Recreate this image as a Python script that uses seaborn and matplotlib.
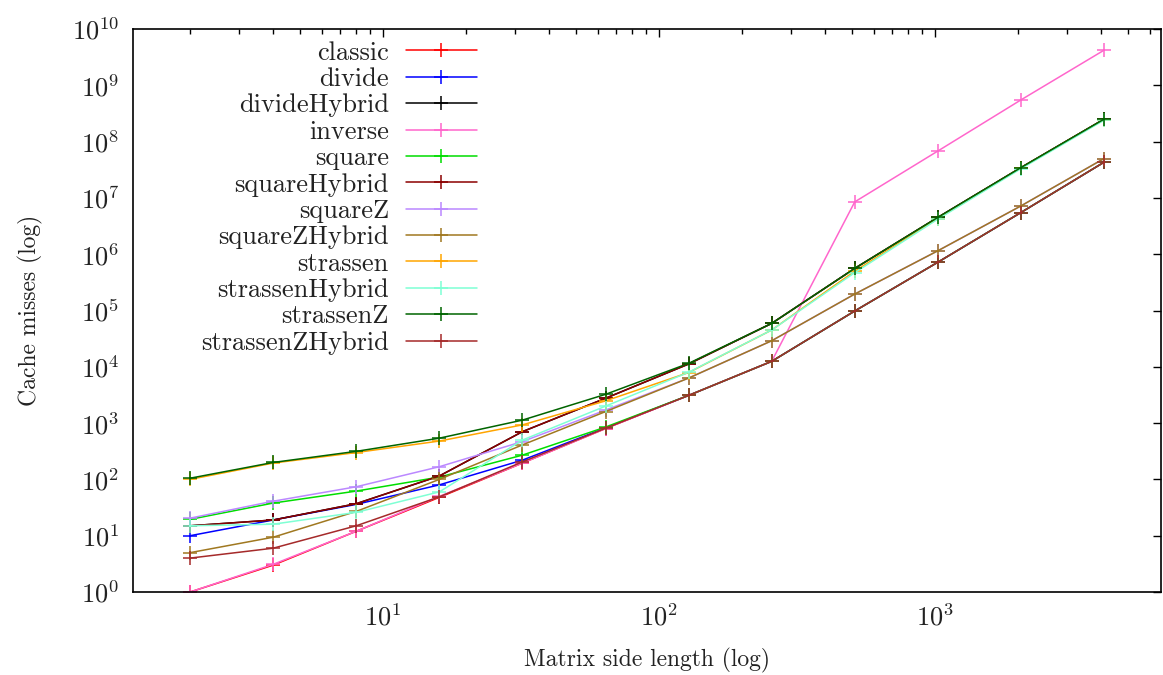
import numpy as np
import pandas as pd
import matplotlib
matplotlib.use("Agg")
import matplotlib.pyplot as plt
import seaborn as sns
from matplotlib.ticker import LogLocator, NullLocator, LogFormatterMathtext, NullFormatter

sizes = [2, 4, 8, 16, 32, 64, 128, 256, 512, 1024, 2048, 4096]

series_names = ["classic", "divide", "divideHybrid", "inverse", "square", "squareHybrid",
                "squareZ", "squareZHybrid", "strassen", "strassenHybrid", "strassenZ",
                "strassenZHybrid"]

classic = [1, 3, 12, 48, 195, 800, 3100, 12500, 9.8e4, 7.2e5, 5.5e6, 4.3e7]
divide = [10, 19, 36, 80, 220, 820, 3100, 12500, 9.8e4, 7.2e5, 5.5e6, 4.3e7]
divideHybrid = [15, 19, 37, 115, 705, 2760, 1.12e4, 5.9e4, 5.6e5, 4.5e6, 3.45e7, 2.5e8]
inverse = [1, 3.1, 12, 50, 195, 800, 3100, 12500, 8.5e6, 6.8e7, 5.5e8, 4.2e9]
square = [19.5, 38, 62, 110, 270, 850, 3100, 12500, 9.8e4, 7.2e5, 5.5e6, 4.3e7]
squareHybrid = [15, 19, 37, 115, 705, 2760, 1.12e4, 5.9e4, 5.6e5, 4.5e6, 3.45e7, 2.5e8]
squareZ = [20.5, 41, 74, 168, 470, 1700, 6300, 2.9e4, 1.96e5, 1.15e6, 7.2e6, 5.0e7]
squareZHybrid = [5, 9.4, 27, 100, 410, 1600, 6300, 2.9e4, 1.96e5, 1.15e6, 7.2e6, 5.0e7]
strassen = [100, 195, 300, 480, 930, 2480, 7900, 4.5e4, 5.0e5, 4.3e6, 3.4e7, 2.45e8]
strassenHybrid = [15, 16, 26, 60, 500, 2000, 8000, 4.5e4, 4.7e5, 4.2e6, 3.3e7, 2.4e8]
strassenZ = [105, 200, 315, 540, 1130, 3240, 1.15e4, 5.9e4, 5.6e5, 4.5e6, 3.45e7, 2.5e8]
strassenZHybrid = [4, 6, 15, 49, 205, 810, 3100, 12500, 9.8e4, 7.2e5, 5.5e6, 4.3e7]

series_values = [classic, divide, divideHybrid, inverse, square, squareHybrid, squareZ,
                 squareZHybrid, strassen, strassenHybrid, strassenZ, strassenZHybrid]

colors = ["#ff0000", "#0000ff", "#000000", "#ff66cc", "#00dd00", "#8b0000",
          "#bb88ff", "#a07820", "#ffa500", "#7fffd4", "#006400", "#a52a2a"]

x_label = "Matrix side length (log)"
y_label = "Cache misses (log)"

sns.set_style("white")
plt.rcParams["font.family"] = "serif"
plt.rcParams["font.serif"] = ["cmr10", "DejaVu Serif"]
plt.rcParams["mathtext.fontset"] = "cm"
plt.rcParams["axes.formatter.use_mathtext"] = True
plt.rcParams["axes.unicode_minus"] = False

fig = plt.figure(figsize=(11.63, 6.75), dpi=100)
ax = fig.add_axes([133 / 1163, 1 - 592 / 675, (1161 - 133) / 1163, (592 - 29) / 675])

for name, vals, c in zip(series_names, series_values, colors):
    df = pd.DataFrame({"n": sizes, "misses": vals})
    sns.lineplot(data=df, x="n", y="misses", ax=ax, color=c, lw=1.1, marker="+",
                 markersize=10, markeredgecolor=c, markeredgewidth=1.1, label=name)

ax.set_xscale("log")
ax.set_yscale("log")
ax.set_xlim(1.242, 6590)
ax.set_ylim(1, 1e10)

ax.yaxis.set_major_locator(LogLocator(base=10, numticks=20))
ax.yaxis.set_major_formatter(LogFormatterMathtext())
ax.yaxis.set_minor_locator(NullLocator())
ax.xaxis.set_major_locator(LogLocator(base=10, numticks=20))
ax.xaxis.set_minor_locator(LogLocator(base=10, subs=np.arange(2, 10), numticks=20))
ax.xaxis.set_minor_formatter(NullFormatter())

ax.tick_params(which="both", direction="in", top=True, right=True, colors="black",
               labelcolor="#222222", labelsize=19)
ax.tick_params(which="major", length=6, width=1)
ax.tick_params(which="minor", length=3.5, width=1)
ax.tick_params(axis="y", pad=10)
ax.tick_params(axis="x", pad=8)
for s in ax.spines.values():
    s.set_color("black")
    s.set_linewidth(1.2)

ax.set_xlabel(x_label, fontsize=17, color="#222222", labelpad=13)
ax.set_ylabel(y_label, fontsize=17, color="#222222", labelpad=21)

leg = ax.legend(loc="upper right", bbox_to_anchor=((477 - 133) / 1028, (592 - 41) / 563),
                frameon=False, markerfirst=False, fontsize=19, handlelength=2.7,
                handletextpad=0.64, labelspacing=0.1, borderpad=0.0, borderaxespad=0.0)
for t in leg.get_texts():
    t.set_color("#222222")

fig.savefig("out.png", dpi=100, facecolor="white")
